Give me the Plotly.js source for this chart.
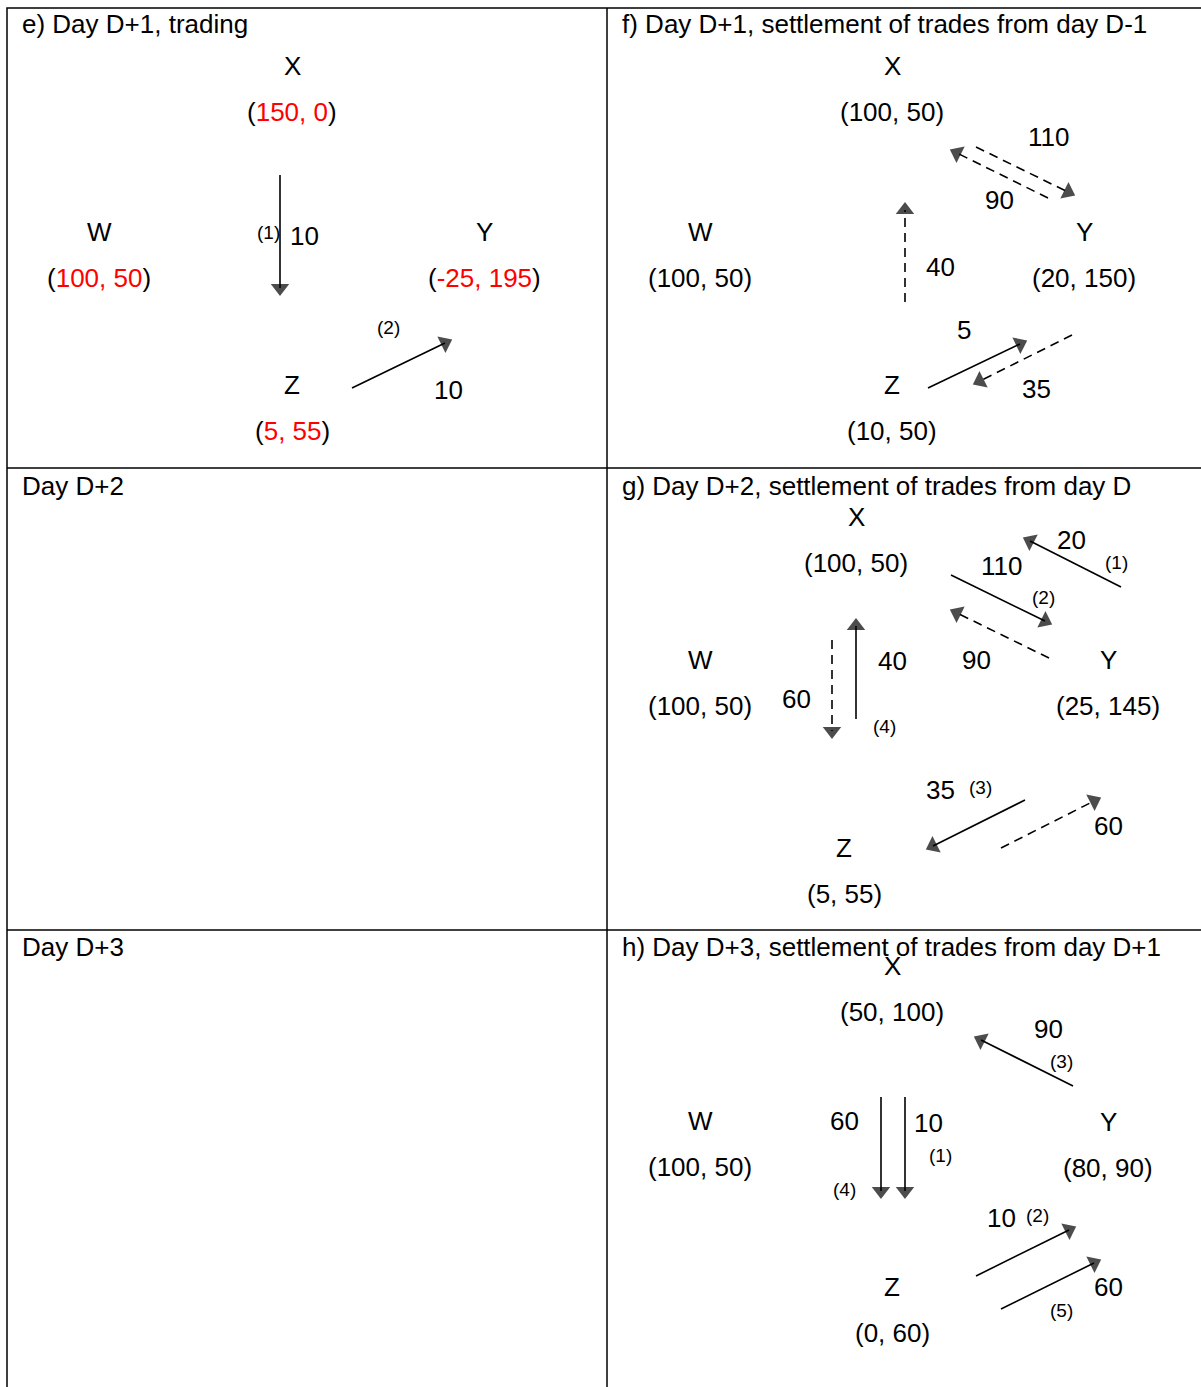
<!DOCTYPE html>
<html>
<head>
<meta charset="utf-8">
<script src="https://cdn.plot.ly/plotly-3.0.1.min.js"></script>
<style>body{margin:0;background:#fff}#chart{width:1201px;height:1387px}</style>
</head>
<body>
<div id="chart"></div>
<script>
const RED = s => '<span style="color:#ff0000">' + s + '</span>';

// panel titles
const titleText = ['e) Day D+1, trading', 'f) Day D+1, settlement of trades from day D-1',
  'Day D+2', 'g) Day D+2, settlement of trades from day D',
  'Day D+3', 'h) Day D+3, settlement of trades from day D+1'];
const titleX = [20, 620, 20, 620, 20, 620];
const titleY = [24, 24, 486, 486, 947, 947];

// node names and balances
const nodeName = ['X', 'W', 'Y', 'Z', 'X', 'W', 'Y', 'Z', 'X', 'W', 'Y', 'Z', 'X', 'W', 'Y', 'Z'];
const nodeBalance = [
  '(' + RED('150, 0') + ')', '(' + RED('100, 50') + ')', '(' + RED('-25, 195') + ')', '(' + RED('5, 55') + ')',
  '(100, 50)', '(100, 50)', '(20, 150)', '(10, 50)',
  '(100, 50)', '(100, 50)', '(25, 145)', '(5, 55)',
  '(50, 100)', '(100, 50)', '(80, 90)', '(0, 60)'];
const nodeX = [292, 99, 484, 292, 892, 700, 1084, 892, 856, 700, 1108, 844, 892, 700, 1108, 892];
const nodeY = [66, 232, 232, 385, 66, 232, 232, 385, 517, 660, 660, 848, 966, 1121, 1122, 1287];

// transfers: start -> end, dashed?
const arrX0 = [280, 352, 1048, 976, 905, 928, 1072, 1121, 951, 1049, 832, 856, 1025, 1001, 1073, 881, 905, 976, 1001];
const arrY0 = [175, 388, 198, 147, 302, 388, 335, 587, 575, 658, 640, 719, 800, 848, 1086, 1097, 1097, 1276, 1309];
const arrX1 = [280, 445, 957, 1068, 905, 1020, 980, 1030, 1045, 957, 832, 856, 933, 1094, 981, 881, 905, 1069, 1094];
const arrY1 = [288, 343, 153, 192, 210, 344, 381, 541, 621, 613, 731, 626, 846, 801, 1040, 1191, 1191, 1230, 1263];
const arrDash = [0, 0, 1, 1, 1, 0, 1, 0, 0, 1, 1, 0, 0, 1, 0, 0, 0, 0, 0];

// amount labels
const amtText = ['10', '10', '90', '110', '40', '5', '35', '20', '110', '90', '60', '40', '35', '60', '90', '60', '10', '10', '60'];
const amtX = [304, 448, 999, 1048, 940, 964, 1036, 1071, 1001, 976, 796, 892, 940, 1108, 1048, 844, 928, 1001, 1108];
const amtY = [236, 390, 200, 137, 267, 330, 389, 540, 566, 660, 699, 661, 790, 826, 1029, 1121, 1123, 1218, 1287];

// sequence labels
const seqText = ['(1)', '(2)', '(1)', '(2)', '(4)', '(3)', '(3)', '(4)', '(1)', '(2)', '(5)'];
const seqX = [268, 388, 1116, 1043, 884, 980, 1061, 844, 940, 1037, 1061];
const seqY = [232, 327, 562, 597, 726, 787, 1061, 1189, 1155, 1215, 1310];

const traces = [];
for (let i = 0; i < arrX0.length; i++) {
  traces.push({
    x: [arrX0[i], arrX1[i]], y: [arrY0[i], arrY1[i]],
    mode: 'lines+markers', type: 'scatter', hoverinfo: 'skip',
    line: {color: '#000', width: 1.6, dash: arrDash[i] ? '9px,6px' : 'solid'},
    marker: {symbol: 'triangle-up', size: [0, 16], color: '#000', angleref: 'previous',
      line: {width: 0}}
  });
}

const ann = [];
const F = {family: 'Liberation Sans, Arial, sans-serif', color: '#000'};
const big = Object.assign({size: 26}, F);
const small = Object.assign({size: 19}, F);
titleText.forEach((t, i) => ann.push({x: titleX[i], y: titleY[i], text: t, xanchor: 'left',
  showarrow: false, font: big}));
nodeName.forEach((t, i) => {
  ann.push({x: nodeX[i], y: nodeY[i], text: t, showarrow: false, font: big});
  ann.push({x: nodeX[i], y: nodeY[i] + 46, text: nodeBalance[i], showarrow: false, font: big});
});
amtText.forEach((t, i) => ann.push({x: amtX[i], y: amtY[i], text: t, showarrow: false, font: big}));
seqText.forEach((t, i) => ann.push({x: seqX[i], y: seqY[i], text: t, showarrow: false, font: small}));

const L = {color: '#000', width: 1.5};
const shapes = [
  {type: 'rect', x0: 7, x1: 1202, y0: 8, y1: 1390, line: L},
  {type: 'line', x0: 607, x1: 607, y0: 8, y1: 1390, line: L},
  {type: 'line', x0: 7, x1: 1202, y0: 468, y1: 468, line: L},
  {type: 'line', x0: 7, x1: 1202, y0: 930, y1: 930, line: L}
].map(s => Object.assign({xref: 'x', yref: 'y'}, s));

const ax = {showgrid: false, zeroline: false, showticklabels: false, ticks: '', fixedrange: true};
Plotly.newPlot('chart', traces, {
  width: 1201, height: 1387, showlegend: false,
  margin: {l: 0, r: 0, t: 0, b: 0},
  paper_bgcolor: '#fff', plot_bgcolor: '#fff',
  xaxis: Object.assign({range: [0, 1201]}, ax),
  yaxis: Object.assign({range: [1387, 0]}, ax),
  annotations: ann, shapes: shapes
}, {staticPlot: true});
</script>
</body>
</html>
